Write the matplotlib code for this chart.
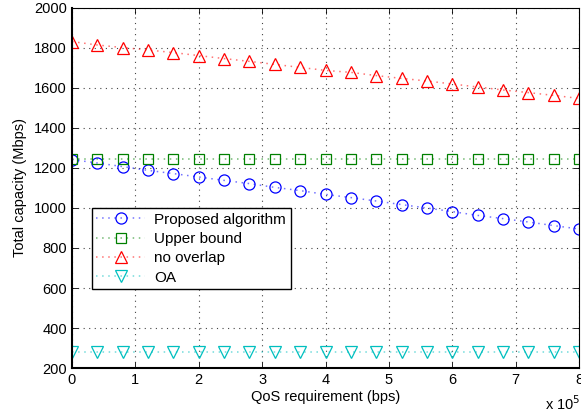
import matplotlib
matplotlib.use('Agg')
import matplotlib.pyplot as plt
from matplotlib.ticker import FuncFormatter

plt.rcParams['font.family'] = ['Liberation Sans', 'DejaVu Sans']

# QoS requirement (bps)
qos = [0, 40000, 80000, 120000, 160000, 200000, 240000, 280000, 320000, 360000, 400000,
       440000, 480000, 520000, 560000, 600000, 640000, 680000, 720000, 760000, 800000]

proposed = [1242, 1225, 1207, 1188, 1172, 1155, 1138, 1122, 1103, 1087, 1068,
            1052, 1035, 1017, 1000, 982, 963, 947, 930, 912, 895]
upper = [1243] * 21
no_overlap = [1832, 1815, 1802, 1790, 1777, 1762, 1747, 1733, 1718, 1703, 1688,
              1678, 1662, 1648, 1635, 1620, 1605, 1590, 1577, 1563, 1548]
oa = [280] * 21

fig = plt.figure(figsize=(5.81, 4.18), dpi=100)
ax = fig.add_axes([0.1239, 0.1196, 0.8727, 0.8613])

series = [
    (proposed, (0, 0, 1), 'o', 8, 'Proposed algorithm'),
    (upper, (0, 0.5, 0), 's', 7, 'Upper bound'),
    (no_overlap, (1, 0, 0), '^', 8.5, 'no overlap'),
    (oa, (0, 0.75, 0.75), 'v', 8.5, 'OA'),
]
for vals, col, mk, ms, lab in series:
    ax.plot(qos, vals, linestyle=(0, (1, 3)), color=col + (0.55,), marker=mk, markersize=ms,
            markerfacecolor='none', markeredgecolor=col, markeredgewidth=0.9,
            linewidth=1.1, label=lab)

ax.set_xlim(0, 800000)
ax.set_ylim(200, 2000)
ax.set_xticks(range(0, 800001, 100000))
ax.set_yticks(range(200, 2001, 200))
ax.xaxis.set_major_formatter(FuncFormatter(lambda v, p: '%d' % round(v / 1e5)))
ax.tick_params(direction='in', top=True, right=True, labelsize=10.5, length=4, width=0.6)
ax.grid(True, linestyle=(0, (1, 4)), color='#444444', linewidth=0.8)

for s in ['left', 'bottom']:
    ax.spines[s].set_linewidth(1.5)
for s in ['top', 'right']:
    ax.spines[s].set_linewidth(0.8)

ax.set_xlabel('QoS requirement (bps)', fontsize=10.5, labelpad=2)
ax.set_ylabel('Total capacity (Mbps)', fontsize=10.5, labelpad=5)
fig.text(0.999, 0.012, 'x 10$^5$', fontsize=10.5, ha='right', va='bottom')

leg = ax.legend(loc='upper left', bbox_to_anchor=(0.039, 0.444), borderaxespad=0,
                fancybox=False, framealpha=1, edgecolor='black', fontsize=11,
                handlelength=3.2, handletextpad=0.6, labelspacing=0.35, borderpad=0.3)
leg.get_frame().set_linewidth(1.0)

plt.savefig('out.png', dpi=100)
